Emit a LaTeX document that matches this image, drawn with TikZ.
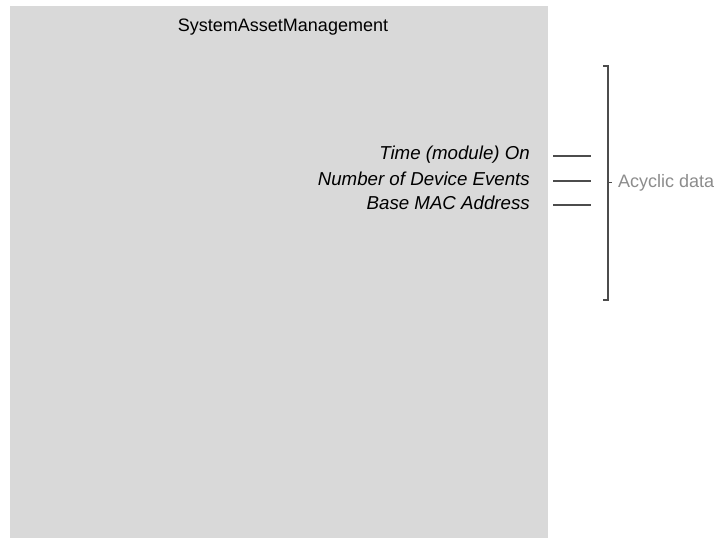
\documentclass[tikz,border=0pt]{standalone}
\usepackage{fontspec}
\setmainfont{Liberation Sans}
\usetikzlibrary{positioning}

\begin{document}
\begin{tikzpicture}[
  x=1pt, y=-1pt,
  font=\fontsize{18}{21}\selectfont,
  item/.style={anchor=east, inner sep=0pt, font=\fontsize{18.7}{21}\selectfont\itshape},
  mark line/.style={draw=black!70, line width=2.2pt},
  brace line/.style={draw=black!70, line width=1.8pt}
]
\useasboundingbox (0,0) rectangle (718,548);
\fill[black!15] (10,6) rectangle (548,538);
\node (title) at (283,27) {SystemAssetManagement};

\node[item] (time) at (530,155) {Time (module) On};
\node[item] (events) at (530,179) {Number of Device Events};
\node[item] (mac) at (530,203) {Base MAC Address};

\draw[mark line] ([xshift=23pt,yshift=-1pt]time.east) -- ++(38,0);
\draw[mark line] ([xshift=23pt,yshift=-2pt]events.east) -- ++(38,0);
\draw[mark line] ([xshift=23pt,yshift=-2pt]mac.east) -- ++(38,0);

% bracket round the rows
\coordinate (btop) at (608,66);
\coordinate (bbot) at (608,300);
\coordinate (bmid) at (608,183);
\draw[brace line] ([xshift=-5pt]btop) -- (btop) -- (bbot) -- ([xshift=-5pt]bbot);
\draw[brace line, line width=1pt] (bmid) -- ++(4,0);
\node[anchor=west, inner sep=0pt, text=black!45] (acyclic) at (618,183) {Acyclic data};
\end{tikzpicture}
\end{document}
